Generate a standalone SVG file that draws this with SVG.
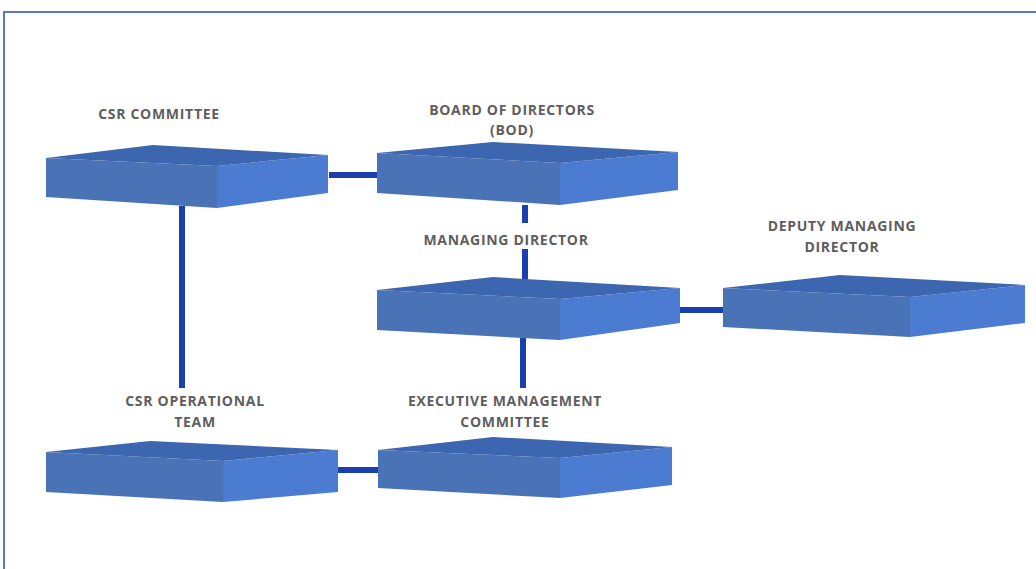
<svg xmlns="http://www.w3.org/2000/svg" width="1036" height="569" viewBox="0 0 1036 569">
<style>
.top{fill:#3c66b0}
.lf{fill:#4a72b6}
.rf{fill:#4b7cd2}
.lbl{font-family:"Open Sans","Liberation Sans",sans-serif;font-weight:700;font-size:14px;letter-spacing:0.7px;fill:#5e5e5e;text-anchor:middle}
.con{stroke:#1a40b0;stroke-width:6;fill:none}
</style>
<rect x="0" y="0" width="1036" height="569" fill="#ffffff"/>
<path d="M4 569 V12 H1036" fill="none" stroke="#5a78c0" stroke-width="2"/>
<g id="connectors">
<line class="con" x1="329" y1="175" x2="379" y2="175"/>
<line class="con" x1="182" y1="206" x2="182" y2="388"/>
<line class="con" x1="525" y1="205" x2="525" y2="223"/>
<line class="con" x1="525" y1="249" x2="525" y2="282"/>
<line class="con" x1="679" y1="310" x2="725" y2="310"/>
<line class="con" x1="523" y1="338" x2="523" y2="388"/>
<line class="con" x1="336" y1="470" x2="380" y2="470"/>
</g>
<g id="csr-committee">
<polygon class="lf" points="46,158 217,166 217,208 46,197"/>
<polygon class="rf" points="217,166 328,155 328,193 217,208"/>
<polygon class="top" points="46,158 153,145 328,155 217,166"/>
<text class="lbl" x="159" y="119">CSR COMMITTEE</text>
</g>
<g id="board-of-directors">
<polygon class="lf" points="377,153 560,163 560,205 377,193"/>
<polygon class="rf" points="560,163 678,152 678,190 560,205"/>
<polygon class="top" points="377,153 493,142 678,152 560,163"/>
<text class="lbl" x="512" y="115">BOARD OF DIRECTORS</text>
<text class="lbl" x="512" y="135">(BOD)</text>
</g>
<g id="managing-director">
<polygon class="lf" points="377,290 560,299 560,340 377,330"/>
<polygon class="rf" points="560,299 680,288 680,323 560,340"/>
<polygon class="top" points="377,290 493,277 680,288 560,299"/>
<text class="lbl" x="506" y="245">MANAGING DIRECTOR</text>
</g>
<g id="deputy-managing-director">
<polygon class="lf" points="723,288 910,297 910,337 723,327"/>
<polygon class="rf" points="910,297 1025,285 1025,323 910,337"/>
<polygon class="top" points="723,288 840,275 1025,285 910,297"/>
<text class="lbl" x="842" y="231">DEPUTY MANAGING</text>
<text class="lbl" x="842" y="252">DIRECTOR</text>
</g>
<g id="csr-operational-team">
<polygon class="lf" points="46,452 223,461 223,502 46,492"/>
<polygon class="rf" points="223,461 338,450 338,492 223,502"/>
<polygon class="top" points="46,452 150,441 338,450 223,461"/>
<text class="lbl" x="195" y="406">CSR OPERATIONAL</text>
<text class="lbl" x="195" y="427">TEAM</text>
</g>
<g id="executive-management-committee">
<polygon class="lf" points="378,450 560,458 560,498 378,488"/>
<polygon class="rf" points="560,458 672,447 672,485 560,498"/>
<polygon class="top" points="378,450 493,437 672,447 560,458"/>
<text class="lbl" x="505" y="406">EXECUTIVE MANAGEMENT</text>
<text class="lbl" x="505" y="427">COMMITTEE</text>
</g>
</svg>
